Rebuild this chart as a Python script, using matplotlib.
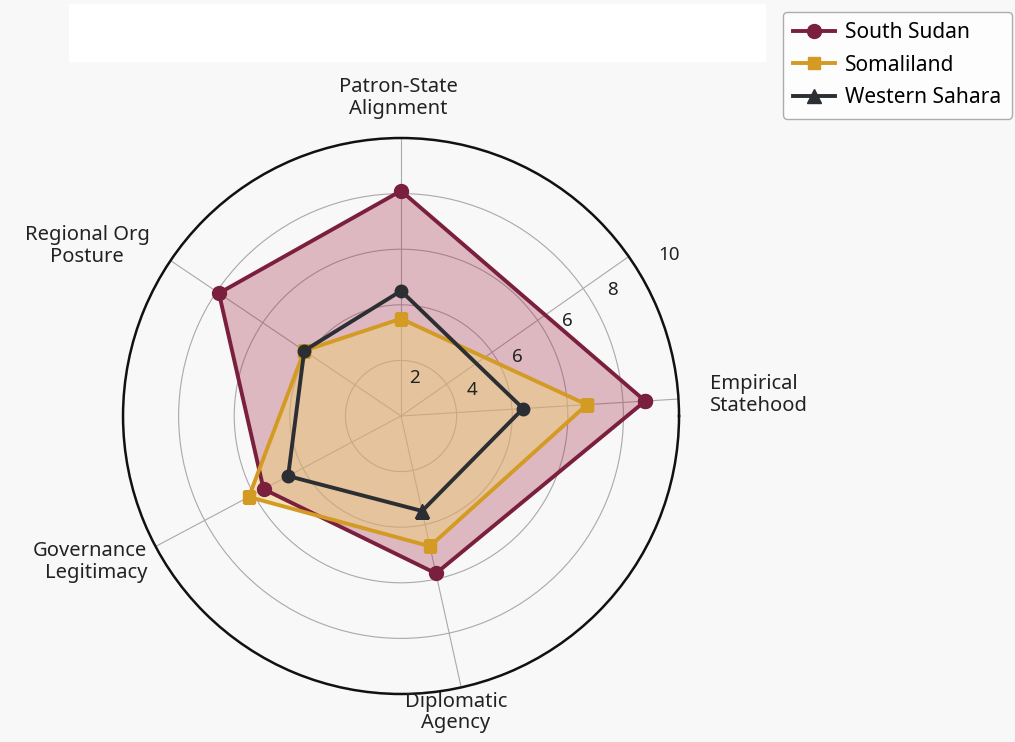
import numpy as np
import matplotlib
matplotlib.use('Agg')
import matplotlib.pyplot as plt
from matplotlib.patches import Rectangle
from matplotlib.lines import Line2D

plt.rcParams['font.family'] = ['Noto Sans', 'DejaVu Sans']

# dane
categories = ['Empirical\nStatehood', 'Patron-State\nAlignment', 'Regional Org\nPosture',
              'Governance\nLegitimacy', 'Diplomatic\nAgency']
south_sudan = [8.8, 8.1, 7.9, 5.6, 5.8]
somaliland = [6.7, 3.5, 4.2, 6.2, 4.8]
western_sahara = [4.4, 4.5, 4.2, 4.6, 3.5]
radial_tick_labels = ['2', '4', '6', '6', '8', '10']

# uklad osi (katy szprych w stopniach, jak na oryginale)
axis_angles = [3.5, 90, 146, 208, 282.5]
extra_spoke = 35
tick_label_pos = [(70, 1.46), (20, 2.72), (27, 4.68), (29.7, 6.9), (30.8, 8.85), (31, 11.25)]
cat_label_pos = [(3.9, 11.14, 'left'), (90.5, 11.44, 'center'), (151.6, 12.84, 'center'),
                 (209.9, 10.54, 'right'), (280.5, 10.85, 'center')]

c_ss, c_so, c_ws = '#7a1f3d', '#d39a24', '#2b2e33'
bg = '#f8f8f8'

fig = plt.figure(figsize=(10.15, 7.42), dpi=100, facecolor=bg)
fig.patches.append(Rectangle((69 / 1015, 1 - 61 / 742), 696 / 1015, 57 / 742,
                             transform=fig.transFigure, color='white', zorder=0))

ax = fig.add_axes([0.1212, 0.0647, 0.5478, 0.7493], projection='polar')
ax.set_facecolor('none')

theta = np.deg2rad(axis_angles)
theta_closed = np.append(theta, theta[0])

def closed(v):
    return np.append(v, v[0])

ax.fill(theta_closed, closed(south_sudan), color='#a8324f', alpha=0.32, zorder=2)
ax.fill(theta_closed, closed(somaliland), color='#edcf79', alpha=0.5, zorder=2)

ax.plot(theta_closed, closed(south_sudan), color=c_ss, lw=2.8, marker='o', ms=10, zorder=4)
ax.plot(theta_closed, closed(somaliland), color=c_so, lw=2.8, marker='s', ms=9, zorder=5)
# Western Sahara: kolka w wierzcholkach, trojkat przy Diplomatic Agency (jak na oryginale)
ax.plot(theta_closed, closed(western_sahara), color=c_ws, lw=2.8, marker='o', ms=9,
        markevery=[0, 1, 2, 3], zorder=6)
ax.plot(theta[4], western_sahara[4], color=c_ws, marker='^', ms=10, zorder=6)

ax.set_ylim(0, 10)
ax.set_yticks([2, 4, 6, 8])
ax.set_yticklabels([])
ax.set_xticks(np.deg2rad(axis_angles + [extra_spoke]))
ax.set_xticklabels([])
ax.grid(True, color='#a9a9a9', lw=0.8)
ax.spines['polar'].set_color('#111111')
ax.spines['polar'].set_linewidth(1.8)

for (ang, r), s in zip(tick_label_pos, radial_tick_labels):
    ax.text(np.deg2rad(ang), r, s, ha='center', va='center', fontsize=13.5,
            color='#222222', zorder=7)

for (ang, r, ha), lab in zip(cat_label_pos, categories):
    ax.text(np.deg2rad(ang), r, lab, ha=ha, va='center', multialignment=ha,
            fontsize=14.5, color='#222222', linespacing=1.1)

handles = [Line2D([], [], color=c_ss, lw=2.8, marker='o', ms=10),
           Line2D([], [], color=c_so, lw=2.8, marker='s', ms=9),
           Line2D([], [], color=c_ws, lw=2.8, marker='^', ms=10)]
fig.legend(handles, ['South Sudan', 'Somaliland', 'Western Sahara'],
           loc='upper right', bbox_to_anchor=(0.997, 0.984), borderaxespad=0,
           fontsize=15, frameon=True, edgecolor='#999999', facecolor='white',
           handlelength=2.0, handletextpad=0.5, borderpad=0.5, labelspacing=0.55)

fig.savefig('out.png', dpi=100, facecolor=bg)
